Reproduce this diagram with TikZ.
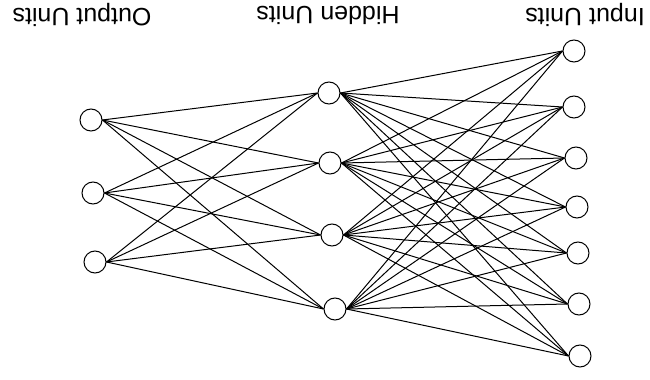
\documentclass[tikz,border=0pt]{standalone}
\usepackage{fontspec}
\setmainfont{Liberation Sans}
\usetikzlibrary{positioning}
\tikzset{
  unit/.style={circle, draw, fill=white, minimum size=11pt, inner sep=0pt},
  layerlabel/.style={rotate=180, font=\fontsize{12.5}{15}\selectfont}
}

\begin{document}
\begin{tikzpicture}[x=0.5pt, y=-0.5pt, line width=0.5pt]
    \useasboundingbox (0,0) rectangle (650,380);

    % Output units (left column)
    \foreach \n/\x/\y in {1/91/120, 2/93/193, 3/95/262}
        \node[unit] (o\n) at (\x,\y) {};

    % Hidden units (middle column)
    \foreach \n/\x/\y in {1/329/93, 2/330/163, 3/332/235, 4/335/309}
        \node[unit] (h\n) at (\x,\y) {};

    % Input units (right column)
    \foreach \n/\x/\y in {1/574/51, 2/574/107, 3/576/158, 4/577/207, 5/578/253, 6/579/304, 7/580/356}
        \node[unit] (i\n) at (\x,\y) {};

    % Labels (printed upside down)
    \node[layerlabel] (lo) at (82,15) {Output Units};
    \node[layerlabel] (lh) at (328,15) {Hidden Units};
    \node[layerlabel] (li) at (585,15) {Input Units};

    % Connections output - hidden
    \foreach \a in {1,2,3}
        \foreach \b in {1,...,4}
            \draw (o\a.east) -- (h\b.west);

    % Connections hidden - input
    \foreach \a in {1,...,4}
        \foreach \b in {1,...,7}
            \draw (h\a.east) -- (i\b.west);
\end{tikzpicture}
\end{document}
